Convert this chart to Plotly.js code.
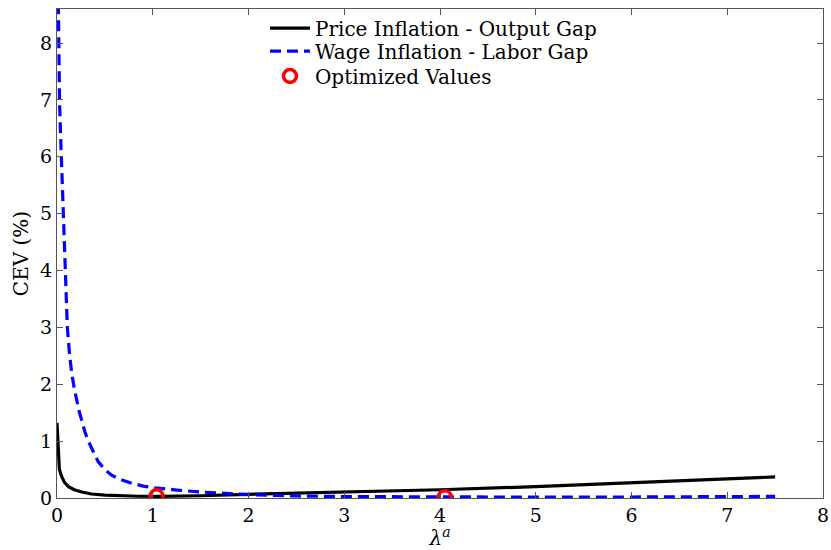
<!DOCTYPE html>
<html>
<head>
<meta charset="utf-8">
<script src="https://cdn.plot.ly/plotly-3.0.1.min.js"></script>
<style>html,body{margin:0;padding:0;background:#fff;}#chart{width:831px;height:550px;}</style>
</head>
<body>
<div id="chart"></div>
<script>
// Price Inflation - Output Gap (black solid)
const priceX = [0, 0.008, 0.014, 0.025, 0.05, 0.08, 0.12, 0.18, 0.26, 0.36, 0.5, 0.65, 0.85, 1.05, 1.5, 2, 3, 4, 5, 6, 7, 7.5];
const priceY = [1.32, 1.0, 0.62, 0.5, 0.37, 0.27, 0.2, 0.145, 0.105, 0.07, 0.05, 0.038, 0.031, 0.03, 0.04, 0.065, 0.105, 0.145, 0.2, 0.27, 0.33, 0.37];

// Wage Inflation - Labor Gap (blue dashed)
const wageX = [0.01, 0.014, 0.021, 0.026, 0.035, 0.045, 0.055, 0.066, 0.08, 0.093, 0.108, 0.13, 0.153, 0.18, 0.205, 0.23, 0.258, 0.29, 0.327, 0.38, 0.43, 0.5, 0.57, 0.67, 0.78, 0.9, 1.02, 1.25, 1.5, 2, 2.5, 3, 4, 5, 6, 7, 7.5];
const wageY = [9.3, 8.6, 8.0, 7.0, 6.5, 6.0, 5.5, 5.0, 4.0, 3.45, 3.0, 2.55, 2.2, 1.93, 1.72, 1.53, 1.37, 1.17, 1.0, 0.8, 0.64, 0.5, 0.4, 0.32, 0.26, 0.21, 0.18, 0.14, 0.105, 0.06, 0.035, 0.025, 0.015, 0.015, 0.018, 0.022, 0.028];

// Optimized values (red circles)
const optX = [1.04, 4.05];
const optY = [0.03, 0.015];

const xTicks = [0, 1, 2, 3, 4, 5, 6, 7, 8];
const yTicks = [0, 1, 2, 3, 4, 5, 6, 7, 8];

const serif = "DejaVu Serif, Liberation Serif, serif";

const traces = [
  {x: priceX, y: priceY, type: 'scatter', mode: 'lines', name: 'Price Inflation - Output Gap',
   line: {color: '#000000', width: 3.2}, legend: 'legend'},
  {x: wageX, y: wageY, type: 'scatter', mode: 'lines', name: 'Wage Inflation - Labor Gap',
   line: {color: '#0000ff', width: 3.2, dash: '11px,6px'}, legend: 'legend2'},
  {x: optX, y: optY, type: 'scatter', mode: 'markers', name: 'Optimized Values',
   marker: {symbol: 'circle-open', size: 13, color: '#ff0000', line: {width: 3.5, color: '#ff0000'}}, legend: 'legend3'}
];

const axisCommon = {
  showgrid: false, zeroline: false, showline: true, linecolor: '#555', linewidth: 1,
  mirror: 'ticks', ticks: 'inside', ticklen: 6, tickcolor: '#555', tickwidth: 1,
  tickfont: {family: serif, size: 19, color: '#000'}
};

const legendCommon = {xanchor: 'left', yanchor: 'middle', bgcolor: 'rgba(0,0,0,0)',
  font: {family: serif, size: 20, color: '#000'}, itemwidth: 40};

const layout = {
  width: 831, height: 550,
  margin: {l: 57, r: 8, t: 9, b: 52},
  paper_bgcolor: '#fff', plot_bgcolor: '#fff',
  showlegend: true,
  legend: Object.assign({}, legendCommon, {x: 0.2715, y: 0.961}),
  legend2: Object.assign({}, legendCommon, {x: 0.2715, y: 0.914}),
  legend3: Object.assign({}, legendCommon, {x: 0.2715, y: 0.863}),
  xaxis: Object.assign({}, axisCommon, {range: [0, 8], tickvals: xTicks, ticktext: xTicks.map(String),
    title: {text: '<i>λ</i><sup><i>a</i></sup>', font: {family: serif, size: 20, color: '#000'}, standoff: 3}}),
  yaxis: Object.assign({}, axisCommon, {range: [0, 8.6], tickvals: yTicks, ticktext: yTicks.map(String),
    title: {text: 'CEV (%)', font: {family: serif, size: 20, color: '#000'}, standoff: 6}})
};

Plotly.newPlot('chart', traces, layout, {displayModeBar: false, staticPlot: true});
</script>
</body>
</html>
